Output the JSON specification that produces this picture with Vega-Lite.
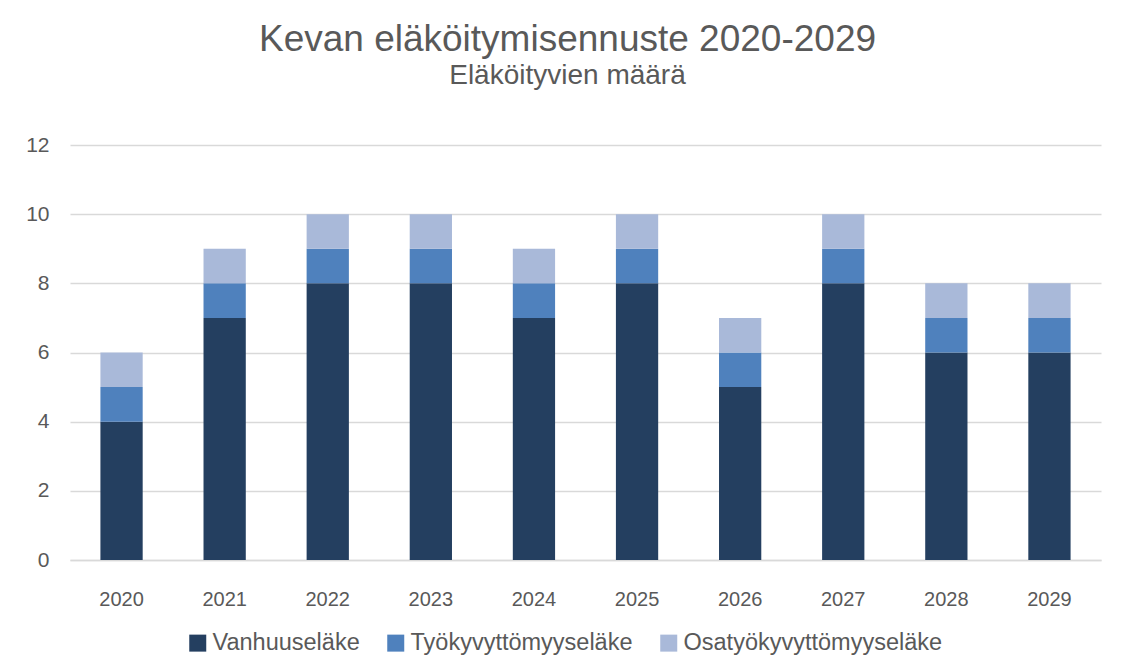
{
  "$schema": "https://vega.github.io/schema/vega-lite/v6.json",
  "width": 1031,
  "height": 415,
  "autosize": {"type": "none"},
  "padding": {"left": 70, "top": 145, "right": 23, "bottom": 108},
  "background": "white",
  "config": {
    "font": "Liberation Sans",
    "view": {"stroke": null},
    "axis": {"labelColor": "#595959", "titleColor": "#595959"}
  },
  "title": {
    "text": "Kevan eläköitymisennuste 2020-2029",
    "subtitle": "Eläköityvien määrä",
    "fontSize": 37,
    "fontWeight": "normal",
    "color": "#595959",
    "subtitleFontSize": 28,
    "subtitleColor": "#595959",
    "subtitlePadding": 3,
    "anchor": "middle",
    "dx": -18,
    "offset": 43
  },
  "data": {
    "values": [
      {"vuosi": "2020", "tyyppi": "Vanhuuseläke", "maara": 4},
      {"vuosi": "2020", "tyyppi": "Työkyvyttömyyseläke", "maara": 1},
      {"vuosi": "2020", "tyyppi": "Osatyökyvyttömyyseläke", "maara": 1},
      {"vuosi": "2021", "tyyppi": "Vanhuuseläke", "maara": 7},
      {"vuosi": "2021", "tyyppi": "Työkyvyttömyyseläke", "maara": 1},
      {"vuosi": "2021", "tyyppi": "Osatyökyvyttömyyseläke", "maara": 1},
      {"vuosi": "2022", "tyyppi": "Vanhuuseläke", "maara": 8},
      {"vuosi": "2022", "tyyppi": "Työkyvyttömyyseläke", "maara": 1},
      {"vuosi": "2022", "tyyppi": "Osatyökyvyttömyyseläke", "maara": 1},
      {"vuosi": "2023", "tyyppi": "Vanhuuseläke", "maara": 8},
      {"vuosi": "2023", "tyyppi": "Työkyvyttömyyseläke", "maara": 1},
      {"vuosi": "2023", "tyyppi": "Osatyökyvyttömyyseläke", "maara": 1},
      {"vuosi": "2024", "tyyppi": "Vanhuuseläke", "maara": 7},
      {"vuosi": "2024", "tyyppi": "Työkyvyttömyyseläke", "maara": 1},
      {"vuosi": "2024", "tyyppi": "Osatyökyvyttömyyseläke", "maara": 1},
      {"vuosi": "2025", "tyyppi": "Vanhuuseläke", "maara": 8},
      {"vuosi": "2025", "tyyppi": "Työkyvyttömyyseläke", "maara": 1},
      {"vuosi": "2025", "tyyppi": "Osatyökyvyttömyyseläke", "maara": 1},
      {"vuosi": "2026", "tyyppi": "Vanhuuseläke", "maara": 5},
      {"vuosi": "2026", "tyyppi": "Työkyvyttömyyseläke", "maara": 1},
      {"vuosi": "2026", "tyyppi": "Osatyökyvyttömyyseläke", "maara": 1},
      {"vuosi": "2027", "tyyppi": "Vanhuuseläke", "maara": 8},
      {"vuosi": "2027", "tyyppi": "Työkyvyttömyyseläke", "maara": 1},
      {"vuosi": "2027", "tyyppi": "Osatyökyvyttömyyseläke", "maara": 1},
      {"vuosi": "2028", "tyyppi": "Vanhuuseläke", "maara": 6},
      {"vuosi": "2028", "tyyppi": "Työkyvyttömyyseläke", "maara": 1},
      {"vuosi": "2028", "tyyppi": "Osatyökyvyttömyyseläke", "maara": 1},
      {"vuosi": "2029", "tyyppi": "Vanhuuseläke", "maara": 6},
      {"vuosi": "2029", "tyyppi": "Työkyvyttömyyseläke", "maara": 1},
      {"vuosi": "2029", "tyyppi": "Osatyökyvyttömyyseläke", "maara": 1}
    ]
  },
  "mark": {"type": "bar"},
  "encoding": {
    "x": {
      "field": "vuosi",
      "type": "ordinal",
      "scale": {"paddingInner": 0.59, "paddingOuter": 0.295},
      "axis": {
        "title": null,
        "labelAngle": 0,
        "labelFontSize": 20,
        "labelPadding": 29,
        "ticks": false,
        "domain": true,
        "domainColor": "#D9D9D9",
        "domainWidth": 1.5
      }
    },
    "y": {
      "field": "maara",
      "type": "quantitative",
      "stack": "zero",
      "scale": {"domain": [0, 12]},
      "axis": {
        "title": null,
        "values": [0, 2, 4, 6, 8, 10, 12],
        "labelFontSize": 21,
        "labelPadding": 21,
        "ticks": false,
        "domain": false,
        "grid": true,
        "gridColor": "#D9D9D9",
        "gridWidth": 1.5
      }
    },
    "color": {
      "field": "tyyppi",
      "type": "nominal",
      "scale": {
        "domain": ["Vanhuuseläke", "Työkyvyttömyyseläke", "Osatyökyvyttömyyseläke"],
        "range": ["#243F60", "#4F81BD", "#A9B9D9"]
      },
      "legend": {
        "title": null,
        "orient": "none",
        "legendX": 116,
        "legendY": 486,
        "direction": "horizontal",
        "columns": 3,
        "symbolType": "square",
        "symbolSize": 289,
        "symbolStrokeWidth": 0,
        "symbolOpacity": 1,
        "labelFontSize": 23.5,
        "labelColor": "#595959",
        "labelOffset": 3,
        "columnPadding": 24,
        "labelLimit": 400
      }
    },
    "order": {"field": "tyyppi", "sort": "descending"}
  }
}
